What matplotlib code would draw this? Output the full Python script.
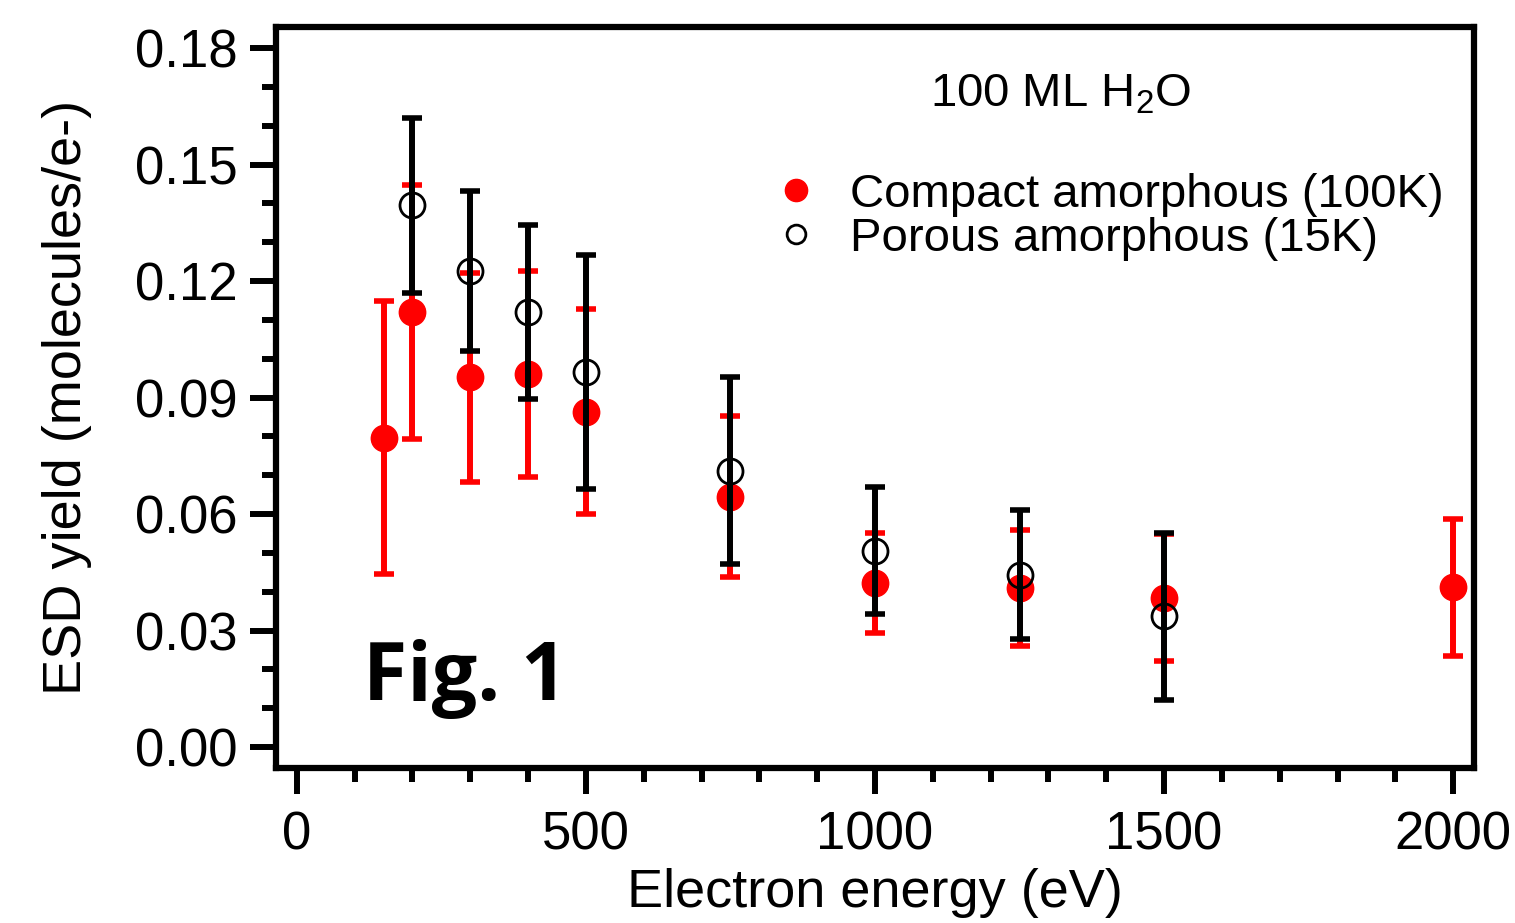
import matplotlib
matplotlib.use("Agg")
import matplotlib.pyplot as plt
from matplotlib.lines import Line2D
from matplotlib.ticker import MultipleLocator, FuncFormatter

plt.rcParams['font.family'] = ['Liberation Sans', 'DejaVu Sans']
plt.rcParams['mathtext.fontset'] = 'custom'
plt.rcParams['mathtext.rm'] = 'Liberation Sans'
plt.rcParams['mathtext.it'] = 'Liberation Sans'

# Compact amorphous (100K)
compact_energy = [150, 200, 300, 400, 500, 750, 1000, 1250, 1500, 2000]
compact_yield = [0.0797, 0.1120, 0.0952, 0.0960, 0.0864, 0.0645, 0.0422, 0.0410, 0.0385, 0.0411]
compact_err = [0.0352, 0.0327, 0.0269, 0.0265, 0.0264, 0.0208, 0.0129, 0.0150, 0.0164, 0.0177]

# Porous amorphous (15K)
porous_energy = [200, 300, 400, 500, 750, 1000, 1250, 1500]
porous_yield = [0.1395, 0.1226, 0.1120, 0.0966, 0.0712, 0.0506, 0.0444, 0.0337]
porous_err = [0.0226, 0.0206, 0.0224, 0.0302, 0.0240, 0.0164, 0.0166, 0.0215]

fig = plt.figure(figsize=(15.15, 9.23), dpi=100)
ax = fig.add_axes([0.1822, 0.1679, 0.7907, 0.8028])

c1 = ax.errorbar(compact_energy, compact_yield, yerr=compact_err, fmt='o', color='#ff0000',
                 markersize=19, elinewidth=4.3, capsize=7.5, capthick=4.0, zorder=2)
c2 = ax.errorbar(porous_energy, porous_yield, yerr=porous_err, fmt='o', color='black',
                 mfc='none', mec='black', mew=2.0, markersize=18, elinewidth=4.3,
                 capsize=7.5, zorder=3)
for cap in c2[1]:
    cap.set_markeredgewidth(4.0)

ax.set_xlim(-36, 2036)
ax.set_ylim(-0.0054, 0.1854)
ax.xaxis.set_major_locator(MultipleLocator(500))
ax.xaxis.set_minor_locator(MultipleLocator(100))
ax.yaxis.set_major_locator(MultipleLocator(0.03))
ax.yaxis.set_minor_locator(MultipleLocator(0.01))
ax.yaxis.set_major_formatter(FuncFormatter(lambda v, p: f"{v:.2f}"))

for s in ax.spines.values():
    s.set_linewidth(4.5)
ax.tick_params(which='major', direction='out', length=18.7, width=4.3, labelsize=38, pad=9)
ax.tick_params(axis='x', which='major', pad=12)
ax.tick_params(which='minor', direction='out', length=10, width=4.3)

ax.set_xlabel('Electron energy (eV)', fontsize=39, labelpad=5)
ax.set_ylabel('ESD yield (molecules/e-)', fontsize=39, labelpad=31)

ax.text(0.655, 0.909, '100 ML H$_2$O', transform=ax.transAxes, fontsize=34,
        ha='center', va='center')

handles = [Line2D([], [], ls='none', marker='o', color='#ff0000', markersize=16),
           Line2D([], [], ls='none', marker='o', mfc='none', mec='black', mew=2.0, markersize=13.5)]
ax.legend(handles, ['Compact amorphous (100K)', 'Porous amorphous (15K)'],
          loc='upper left', bbox_to_anchor=(0.418, 0.803), frameon=False,
          fontsize=34, handlelength=0.8, handletextpad=0.75, labelspacing=0.0,
          borderpad=0, borderaxespad=0)

ax.text(0.073, 0.12, 'Fig. 1', transform=ax.transAxes, fontsize=58,
        fontweight='bold', family=['Open Sans', 'DejaVu Sans'], ha='left', va='center')

fig.savefig('out.png', dpi=100)
